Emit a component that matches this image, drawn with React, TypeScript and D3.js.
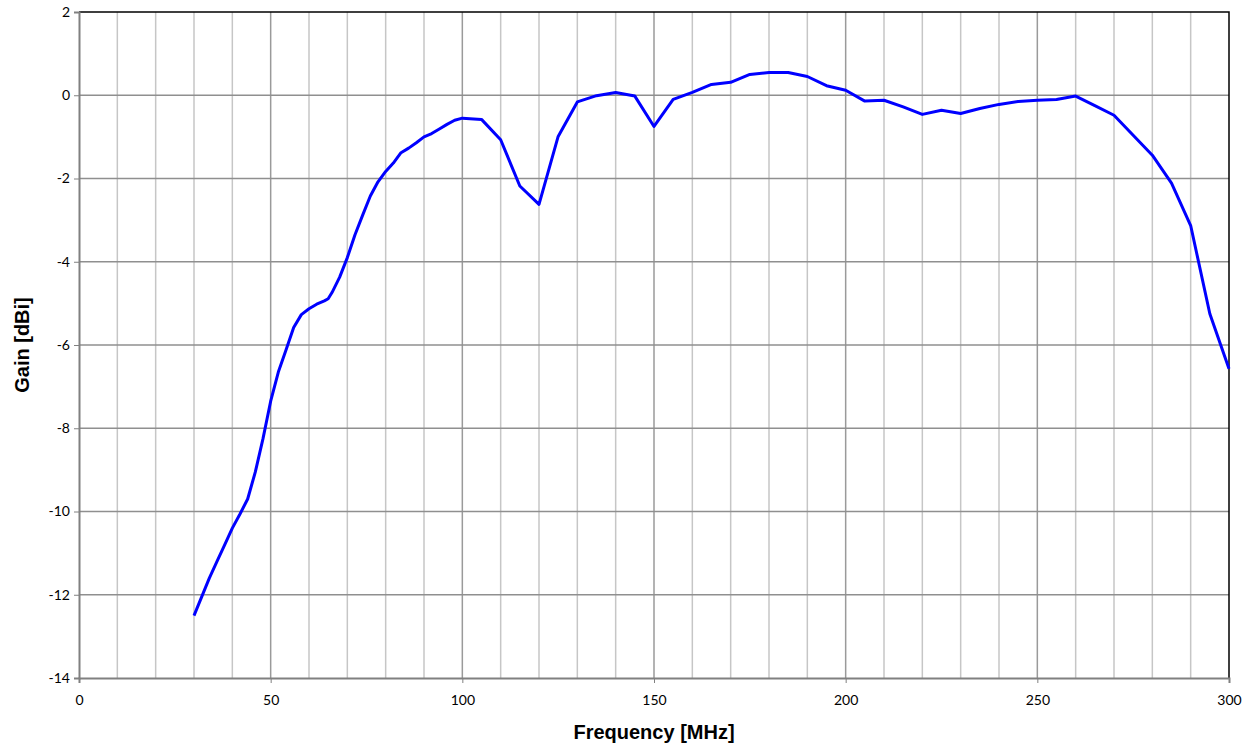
import { useEffect, useRef } from "react";
import * as d3 from "d3";

const frequency = [
  30, 32, 34, 36, 38, 40, 42, 44, 46, 48, 50, 52, 54, 56, 58, 60, 62, 64, 65, 66, 68, 70,
  72, 74, 76, 78, 80, 82, 84, 86, 88, 90, 92, 94, 96, 98, 100, 105, 110, 115, 120, 125,
  130, 135, 140, 145, 150, 155, 160, 165, 170, 175, 180, 185, 190, 195, 200, 205, 210,
  215, 220, 225, 230, 235, 240, 245, 250, 255, 260, 265, 270, 275, 280, 285, 290, 295, 300,
];
const gain = [
  -12.5, -12.05, -11.6, -11.2, -10.8, -10.4, -10.06, -9.7, -9.05, -8.25, -7.35, -6.65,
  -6.12, -5.58, -5.27, -5.13, -5.02, -4.94, -4.89, -4.74, -4.37, -3.9, -3.35, -2.88,
  -2.42, -2.08, -1.83, -1.63, -1.38, -1.27, -1.14, -1.0, -0.92, -0.81, -0.7, -0.6, -0.55,
  -0.58, -1.07, -2.18, -2.62, -0.99, -0.16, -0.01, 0.065, -0.02, -0.75, -0.1, 0.07, 0.26,
  0.31, 0.5, 0.545, 0.545, 0.45, 0.23, 0.12, -0.14, -0.12, -0.28, -0.46, -0.36, -0.44,
  -0.32, -0.22, -0.15, -0.12, -0.1, -0.02, -0.25, -0.48, -0.96, -1.44, -2.11, -3.13,
  -5.25, -6.57,
];
const xTicks = [0, 50, 100, 150, 200, 250, 300];
const yTicks = [2, 0, -2, -4, -6, -8, -10, -12, -14];

const App = () => {
  const ref = useRef<SVGSVGElement>(null);

  useEffect(() => {
    const width = 1258;
    const height = 749;
    const margin = { top: 12, right: 29, bottom: 71, left: 79 };
    const svg = d3.select(ref.current);
    svg.selectAll("*").remove();

    const x = d3.scaleLinear().domain([0, 300]).range([margin.left, width - margin.right]);
    const y = d3.scaleLinear().domain([-14, 2]).range([height - margin.bottom, margin.top]);
    const font = "Lato, 'Open Sans', sans-serif";

    // vertical grid every 10 MHz
    svg.append("g")
      .selectAll("line")
      .data(d3.range(10, 300, 10))
      .join("line")
      .attr("x1", d => x(d)).attr("x2", d => x(d))
      .attr("y1", y(2)).attr("y2", y(-14))
      .attr("stroke", d => (d % 50 === 0 ? "#9a9a9a" : "#c6c6c6"))
      .attr("stroke-width", 1.5);

    // horizontal grid
    svg.append("g")
      .selectAll("line")
      .data(yTicks.filter(d => d > -14 && d < 2))
      .join("line")
      .attr("x1", x(0)).attr("x2", x(300))
      .attr("y1", d => y(d)).attr("y2", d => y(d))
      .attr("stroke", "#8f8f8f")
      .attr("stroke-width", 1.5);

    // top / right border
    svg.append("path")
      .attr("d", `M${x(0)},${y(2)}H${x(300)}V${y(-14)}`)
      .attr("fill", "none")
      .attr("stroke", "#000")
      .attr("stroke-width", 1.5);

    // axes
    const yAxis = svg.append("g")
      .attr("transform", `translate(${x(0)},0)`)
      .call(d3.axisLeft(y).tickValues(yTicks).tickFormat(d => String(d)).tickSize(5).tickPadding(4));
    const xAxis = svg.append("g")
      .attr("transform", `translate(0,${y(-14)})`)
      .call(d3.axisBottom(x).tickValues(xTicks).tickFormat(d => String(d)).tickSize(5).tickPadding(12));
    [xAxis, yAxis].forEach(g => {
      g.select(".domain").attr("stroke", "#808080").attr("stroke-width", 2);
      g.selectAll(".tick line").attr("stroke", "#808080").attr("stroke-width", 1);
      g.selectAll(".tick text")
        .attr("font-family", font)
        .attr("font-size", 14)
        .attr("fill", "#000");
    });

    const line = d3.line<number>()
      .x((_, i) => x(frequency[i]))
      .y(d => y(d));

    svg.append("path")
      .datum(gain)
      .attr("fill", "none")
      .attr("stroke", "#0000ff")
      .attr("stroke-width", 3)
      .attr("stroke-linejoin", "round")
      .attr("d", line);

    svg.append("text")
      .attr("x", (x(0) + x(300)) / 2)
      .attr("y", 739)
      .attr("text-anchor", "middle")
      .attr("font-family", "Arial, 'Liberation Sans', sans-serif")
      .attr("font-weight", "bold")
      .attr("font-size", 20)
      .text("Frequency [MHz]");

    svg.append("text")
      .attr("transform", `translate(29,${(y(2) + y(-14)) / 2}) rotate(-90)`)
      .attr("text-anchor", "middle")
      .attr("font-family", "Arial, 'Liberation Sans', sans-serif")
      .attr("font-weight", "bold")
      .attr("font-size", 20)
      .text("Gain [dBi]");
  }, []);

  return (
    <svg
      ref={ref}
      width={1258}
      height={749}
      style={{ position: "absolute", left: 0, top: 0, background: "#fff" }}
    />
  );
};

export default App;
